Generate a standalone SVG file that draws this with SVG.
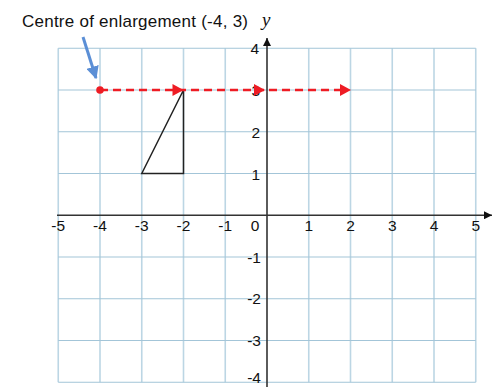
<svg xmlns="http://www.w3.org/2000/svg" width="497" height="387" viewBox="0 0 497 387">
<defs>
<style>
.gv{stroke:#bcd6e4;stroke-width:1.6;fill:none}
.gh{stroke:#a3c5d8;stroke-width:1.2;fill:none}
.axis{stroke:#333;stroke-width:1.6;fill:none}
.lbl{font-family:"Liberation Sans",Arial,sans-serif;font-size:15.5px;fill:#111}
.xl{text-anchor:middle}
.yl{text-anchor:end}
.red{stroke:#ee1c24;stroke-width:2.5;stroke-dasharray:8 5;fill:none}
</style>
<marker id="ah" viewBox="0 0 10 10" refX="10" refY="5" markerWidth="8" markerHeight="8" markerUnits="userSpaceOnUse" orient="auto"><path d="M0,0 L10,5 L0,10 Z" fill="#111"/></marker>
<marker id="bh" viewBox="0 0 10 10" refX="9" refY="5" markerWidth="4.3" markerHeight="4.3" orient="auto"><path d="M0,0 L10,5 L0,10 Z" fill="#5b8fd6"/></marker>
<path id="rh" d="M-11,-6 L0,0 L-11,6 Z" fill="#ee1c24"/>
</defs>
<rect width="497" height="387" fill="#fff"/>
<g id="grid">
<path class="gv" d="M58.25,48.25V382.25M100,48.25V382.25M141.75,48.25V382.25M183.5,48.25V382.25M225.25,48.25V382.25M308.75,48.25V382.25M350.5,48.25V382.25M392.25,48.25V382.25M434,48.25V382.25M475.75,48.25V382.25"/>
<path class="gh" d="M58.25,48.25H475.75M58.25,90H475.75M58.25,131.75H475.75M58.25,173.5H475.75M58.25,257H475.75M58.25,298.75H475.75M58.25,340.5H475.75M58.25,382.25H475.75"/>
</g>
<g id="axes">
<line class="axis" x1="57" y1="215.25" x2="492" y2="215.25" marker-end="url(#ah)"/>
<line class="axis" x1="267" y1="387" x2="267" y2="38" marker-end="url(#ah)"/>
</g>
<g id="labels" class="lbl">
<text class="xl" x="58.25" y="231">-5</text>
<text class="xl" x="100" y="231">-4</text>
<text class="xl" x="141.75" y="231">-3</text>
<text class="xl" x="183.5" y="231">-2</text>
<text class="xl" x="225.25" y="231">-1</text>
<text class="xl" x="255" y="231">0</text>
<text class="xl" x="308.75" y="231">1</text>
<text class="xl" x="350.5" y="231">2</text>
<text class="xl" x="392.25" y="231">3</text>
<text class="xl" x="434" y="231">4</text>
<text class="xl" x="475.75" y="231">5</text>
<text class="yl" x="259" y="53.5">4</text>
<text class="yl" x="260" y="95.5">3</text>
<text class="yl" x="260" y="137.5">2</text>
<text class="yl" x="260" y="179.5">1</text>
<text class="yl" x="261" y="262.5">-1</text>
<text class="yl" x="261" y="304">-2</text>
<text class="yl" x="261" y="346">-3</text>
<text class="yl" x="261" y="382.5">-4</text>
</g>
<g id="triangle">
<path d="M141.75,173.5 L183.5,90 L183.5,173.5 Z" fill="none" stroke="#222" stroke-width="1.5"/>
</g>
<g id="connectors">
<line class="red" x1="100" y1="90" x2="345" y2="90"/>
<use href="#rh" x="183.5" y="90"/>
<use href="#rh" x="265" y="90"/>
<use href="#rh" x="351" y="90"/>
<line x1="83" y1="37" x2="96" y2="78" stroke="#5b8fd6" stroke-width="3" marker-end="url(#bh)"/>
</g>
<g id="centre">
<circle cx="100" cy="90" r="3.8" fill="#ee1c24"/>
</g>
<g id="title">
<text x="22" y="27" font-family="'Liberation Sans',Arial,sans-serif" font-size="17" fill="#111" textLength="226" lengthAdjust="spacing">Centre of enlargement (-4, 3)</text>
<text x="262" y="26" font-family="'Liberation Serif','Times New Roman',serif" font-style="italic" font-size="19" fill="#111">y</text>
</g>
</svg>
